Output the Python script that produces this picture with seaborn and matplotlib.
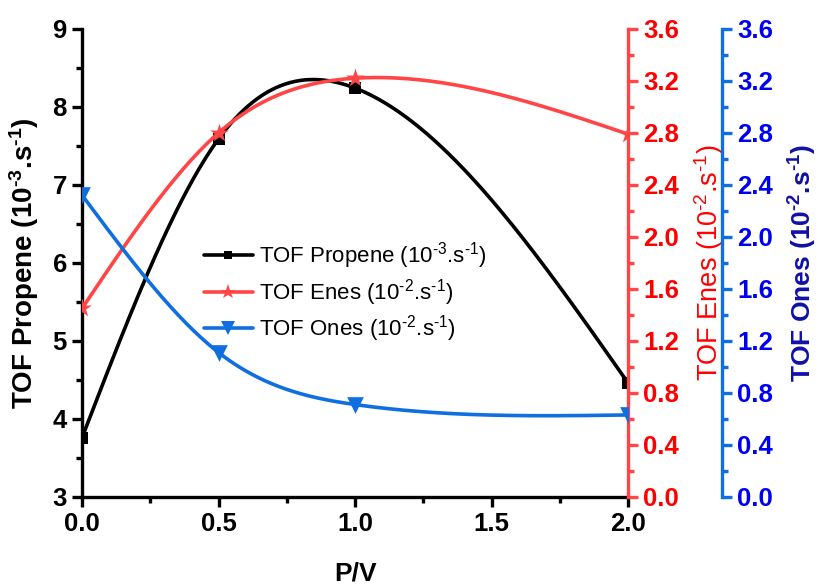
import numpy as np
import pandas as pd
import matplotlib
matplotlib.use("Agg")
import matplotlib.pyplot as plt
from matplotlib.lines import Line2D
from matplotlib.ticker import MultipleLocator, FormatStrFormatter
import seaborn as sns

# ---- data ----
pv = [0.0, 0.5, 1.0, 2.0]
tof_propene = [3.76, 7.59, 8.24, 4.46]   # 10^-3 s^-1
tof_enes = [1.45, 2.80, 3.22, 2.79]      # 10^-2 s^-1
tof_ones = [2.32, 1.11, 0.71, 0.63]      # 10^-2 s^-1

# superscripts use a plain hyphen (U+2010) rather than a math minus
labels = ["TOF Propene (10$^{\u20103}$.s$^{\u20101}$)",
          "TOF Enes (10$^{\u20102}$.s$^{\u20101}$)",
          "TOF Ones (10$^{\u20102}$.s$^{\u20101}$)"]

C_BLACK = "#000000"
C_RED = "#FF4545"
C_RED_TXT = "#FF0000"
C_BLUE = "#0F6FE0"
C_BLUE_TXT = "#0000F0"
C_BLUE_LBL = "#1010A8"


def natural_spline(x, y, n=300):
    """Natural cubic spline connecting the points (smooth connector line)."""
    x = np.asarray(x, float)
    y = np.asarray(y, float)
    m = len(x)
    h = np.diff(x)
    A = np.zeros((m, m))
    b = np.zeros(m)
    A[0, 0] = 1
    A[-1, -1] = 1
    for i in range(1, m - 1):
        A[i, i - 1] = h[i - 1]
        A[i, i] = 2 * (h[i - 1] + h[i])
        A[i, i + 1] = h[i]
        b[i] = 6 * ((y[i + 1] - y[i]) / h[i] - (y[i] - y[i - 1]) / h[i - 1])
    M = np.linalg.solve(A, b)
    xs = np.linspace(x[0], x[-1], n)
    idx = np.clip(np.searchsorted(x, xs) - 1, 0, m - 2)
    x0, x1 = x[idx], x[idx + 1]
    hh = x1 - x0
    t0 = x1 - xs
    t1 = xs - x0
    ys = (M[idx] * t0 ** 3 / (6 * hh) + M[idx + 1] * t1 ** 3 / (6 * hh)
          + (y[idx] / hh - M[idx] * hh / 6) * t0
          + (y[idx + 1] / hh - M[idx + 1] * hh / 6) * t1)
    return xs, ys


sns.set_theme(style="ticks")
plt.rcParams["font.family"] = ["Liberation Sans", "DejaVu Sans"]
plt.rcParams["mathtext.default"] = "regular"
for k in ("text.color", "axes.labelcolor", "xtick.color", "ytick.color",
          "axes.edgecolor"):
    plt.rcParams[k] = "black"

fig = plt.figure(figsize=(8.21, 5.88), dpi=100)
ax = fig.add_axes([0.100, 0.155, 0.665, 0.796])
ax2 = ax.twinx()
ax3 = ax.twinx()
ax3.spines["right"].set_position(("axes", 1.172))

LW = 2.6
SPW = 2.4

series = [
    (ax, tof_propene, C_BLACK, "s", 8),
    (ax2, tof_enes, C_RED, "*", 14),
    (ax3, tof_ones, C_BLUE, "v", 12),
]
for a, vals, col, mk, ms in series:
    xs, ys = natural_spline(pv, vals)
    curve = pd.DataFrame({"x": xs, "y": ys})
    sns.lineplot(data=curve, x="x", y="y", ax=a, color=col, lw=LW,
                 sort=False, legend=False)
    pts = pd.DataFrame({"x": pv, "y": vals})
    sns.scatterplot(data=pts, x="x", y="y", ax=a, color=col, marker=mk,
                    s=ms ** 2, linewidth=0, legend=False, zorder=5)

# ---- axes limits / ticks ----
ax.set_xlim(0, 2.0)
ax.set_ylim(3, 9)
ax2.set_ylim(0, 3.6)
ax3.set_ylim(0, 3.6)

ax.xaxis.set_major_locator(MultipleLocator(0.5))
ax.xaxis.set_minor_locator(MultipleLocator(0.25))
ax.xaxis.set_major_formatter(FormatStrFormatter("%.1f"))
ax.yaxis.set_major_locator(MultipleLocator(1))
ax.yaxis.set_minor_locator(MultipleLocator(0.5))
for a in (ax2, ax3):
    a.yaxis.set_major_locator(MultipleLocator(0.4))
    a.yaxis.set_minor_locator(MultipleLocator(0.2))
    a.yaxis.set_major_formatter(FormatStrFormatter("%.1f"))

TFS = 18.5
for a in (ax, ax2, ax3):
    a.tick_params(which="major", direction="out", length=7, width=SPW,
                  labelsize=TFS, pad=4)
    a.tick_params(which="minor", direction="out", length=4, width=SPW)
    for lab in a.get_xticklabels() + a.get_yticklabels():
        lab.set_fontweight("bold")

# spines
ax.spines["top"].set_visible(False)
ax.spines["right"].set_visible(False)
ax.spines["left"].set_linewidth(SPW)
ax.spines["bottom"].set_linewidth(SPW)
for a, col, tcol in ((ax2, C_RED, C_RED_TXT), (ax3, C_BLUE, C_BLUE_TXT)):
    for s in ("top", "left", "bottom"):
        a.spines[s].set_visible(False)
    a.spines["right"].set_color(col)
    a.spines["right"].set_linewidth(SPW)
    a.tick_params(axis="y", which="both", colors=col, labelcolor=tcol)

ax.set_xlabel("P/V", fontsize=19, fontweight="bold", labelpad=18)
ax.set_ylabel(labels[0], fontsize=20, fontweight="bold", labelpad=8)
ax2.set_ylabel(labels[1], fontsize=19.5, fontweight="normal",
               color=C_RED_TXT, labelpad=9)
ax3.set_ylabel(labels[2], fontsize=19, fontweight="bold", color=C_BLUE_LBL,
               labelpad=10)

# ---- legend ----
handles = [Line2D([], [], color=c, lw=LW, marker=m, markersize=s * 0.8,
                  markeredgewidth=0)
           for (_, _, c, m, s) in series]
fig.legend(handles, labels, loc="upper left",
           bbox_to_anchor=(0.224, 0.625), frameon=False, fontsize=16,
           handlelength=2.2, handletextpad=0.3, labelspacing=0.25)

fig.savefig("out.png", dpi=100, facecolor="white")
